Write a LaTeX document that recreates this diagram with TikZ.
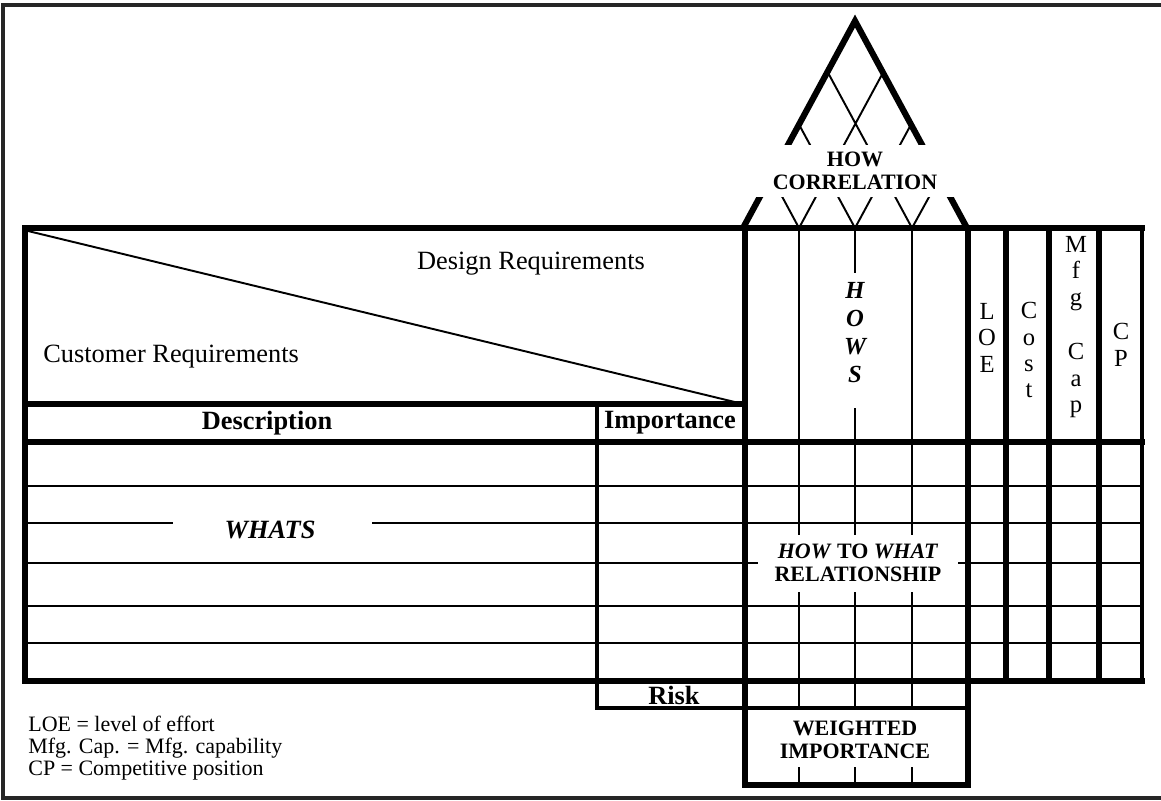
\documentclass[tikz,border=0pt]{standalone}
\usepackage{fontspec}
\setmainfont{Liberation Serif}

\begin{document}
\begin{tikzpicture}[x=0.2mm,y=-0.2mm]
	  \tikzstyle{heavy}=[line width=3pt,line cap=rect]
	  \tikzstyle{medium}=[line width=2pt,line cap=rect]
	  \tikzstyle{hair}=[line width=1.1pt]
	  \tikzstyle{txt}=[font=\fontsize{15}{16}\selectfont,inner sep=0pt]
	  \tikzstyle{hd}=[font=\fontsize{15}{16}\selectfont\bfseries,inner sep=0pt]
	  \tikzstyle{stack}=[font=\fontsize{14}{15}\selectfont,align=center,inner sep=0pt,anchor=north]
	  \tikzstyle{blank}=[fill=white,inner sep=0pt,align=center,font=\fontsize{12.5}{13}\selectfont\bfseries]

	  \useasboundingbox (0,0) rectangle (1161,801);
	  \draw[line width=2pt,black!85] (1161,5) -- (3,5) -- (3,798) -- (1161,798);

	  % roof
	  \draw[line width=3.5pt,line join=miter] (743,228) -- (855,21) -- (967,228);
	  \draw[hair] (799,228) -- (883,72.7) (912,228) -- (827.5,71.8)
	  (855,228) -- (799,124.5) (855,228) -- (911,124.5)
	  (799,228) -- (771,176) (912,228) -- (940,177);
	  \node[blank,minimum width=48mm,minimum height=10.4mm] (corr) at (855,171) {HOW\\CORRELATION};

	  % customer / design header
	  \draw[hair] (28,231) -- (743,404);
	  \node[txt,anchor=base] (dr) at (531,270) {Design Requirements};
	  \node[txt,anchor=base west] (cr) at (43,362) {Customer Requirements};
	  \node[hd] (desc) at (267,423) {Description};
	  \node[hd] (imp) at (670,423) {Importance};

	  % rows
	  \draw[hair] (25,486) -- (1142,486) (25,523) -- (173,523) (372,523) -- (1142,523)
	  (25,563) -- (1142,563) (25,606) -- (1142,606) (25,643) -- (1142,643);
	  \node[hd,font=\fontsize{15}{16}\selectfont\bfseries\itshape,anchor=base] (whats) at (270,538) {WHATS};

	  % hows
	  \draw[hair] (799,228) -- (799,708) (912,228) -- (912,708)
	  (855,228) -- (855,273) (855,408) -- (855,708)
	  (799,767) -- (799,785) (855,767) -- (855,785) (912,767) -- (912,785);
	  \node[blank,minimum width=40mm,minimum height=11.4mm] (rel) at (858,563) {\textit{HOW} TO \textit{WHAT}\\RELATIONSHIP};
	  \node[stack,font=\fontsize{14}{16}\selectfont\bfseries\itshape] (hows) at (855,282) {H\\O\\W\\S};
	  \node[stack] (loe) at (987,303) {L\\O\\E};
	  \node[stack] (cost) at (1029,302) {C\\o\\s\\t};
	  \node[stack] (mfg) at (1076,236) {M\\f\\g\\[16pt]C\\a\\p};
	  \node[stack] (cp) at (1121,323) {C\\P};

	  % outlines
	  \draw[heavy] (25,681) -- (25,228) -- (1142,228);
	  \draw[heavy] (25,404) -- (745,404) (25,442) -- (1142,442) (25,681) -- (1142,681);
	  \draw[medium] (597,404) -- (597,708) -- (968,708);
	  \node[hd] (risk) at (674,695) {Risk};
	  \draw[heavy] (745,228) -- (745,785) -- (968,785);
	  \draw[heavy,line width=3.6pt] (968,228) -- (968,785);
	  \draw[heavy] (1006,228) -- (1006,681) (1049,228) -- (1049,681) (1099,228) -- (1099,681);
	  \draw[medium] (1142,228) -- (1142,681);
	  \node[font=\fontsize{12.5}{13}\selectfont\bfseries,align=center] (wi) at (855,740) {WEIGHTED\\IMPORTANCE};

	  % key
	  \node[anchor=north west,align=left,inner sep=0pt,font=\fontsize{12.5}{12.4}\selectfont] (key) at (28,716)
	  {LOE = level of effort\\Mfg. Cap. = Mfg. capability\\CP = Competitive position};
	\end{tikzpicture}
\end{document}
